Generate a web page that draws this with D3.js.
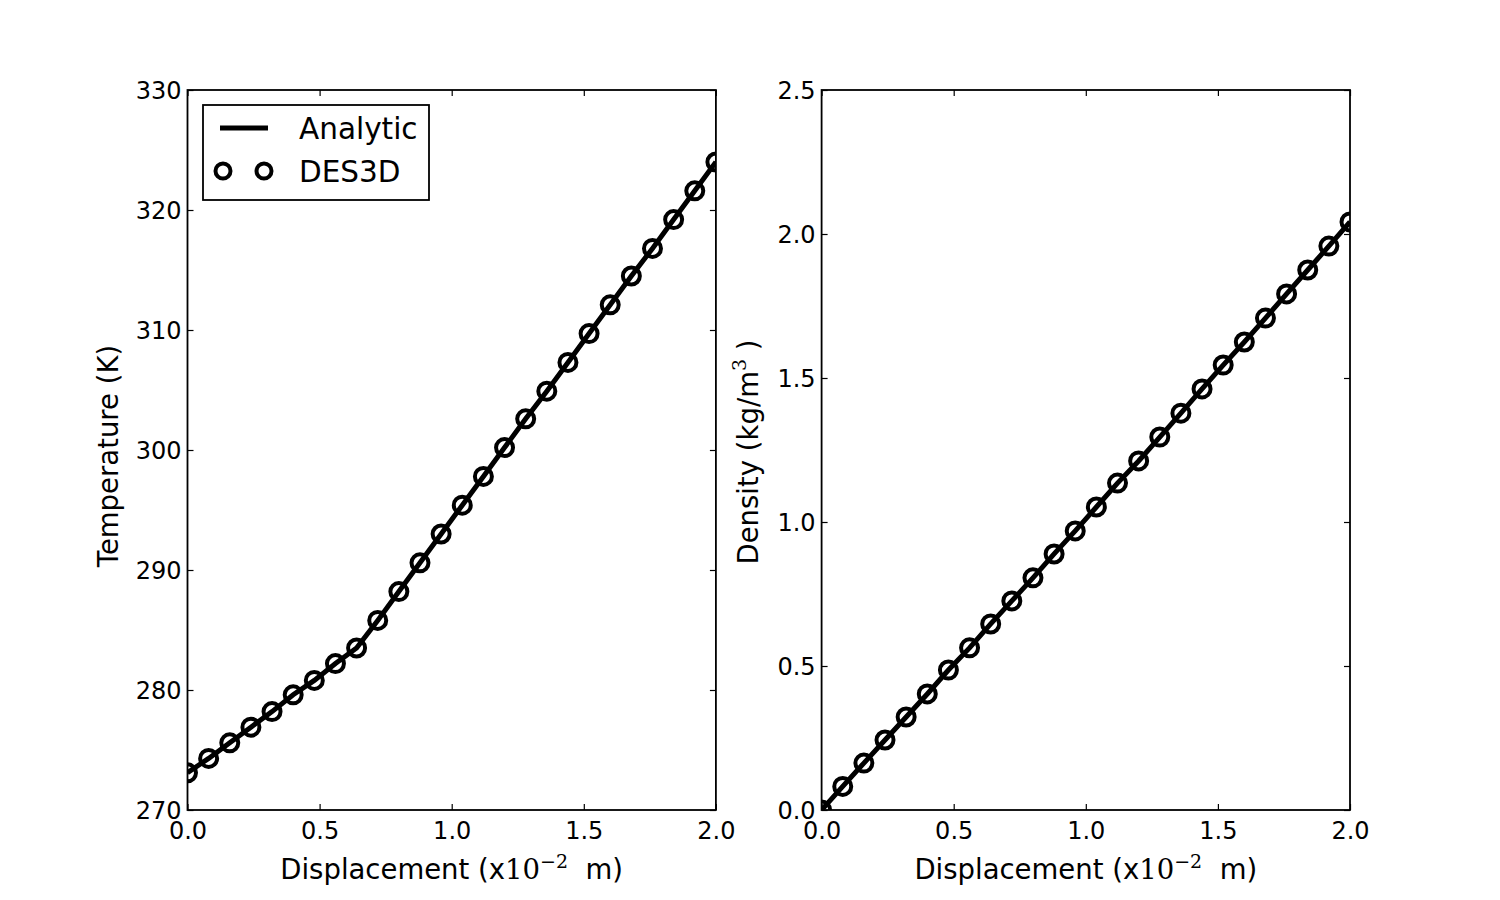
<!DOCTYPE html>
<html>
<head>
<meta charset="utf-8">
<script src="https://cdn.jsdelivr.net/npm/d3@7"></script>
<style>
  body { margin: 0; background: #fff; }
  text { font-family: "DejaVu Sans", sans-serif; fill: #000; }
  .serif { font-family: "DejaVu Serif", serif; }
</style>
</head>
<body>
<script>
// displacement (x10^-2 m) of each sample
const displacement = [0, 0.08, 0.16, 0.24, 0.32, 0.40, 0.48, 0.56, 0.64, 0.72, 0.80, 0.88, 0.96,
  1.04, 1.12, 1.20, 1.28, 1.36, 1.44, 1.52, 1.60, 1.68, 1.76, 1.84, 1.92, 2.00];

// temperature (K)
const tempAnalytic = [273.1, 274.3, 275.6, 276.9, 278.2, 279.6, 280.8, 282.2, 283.5, 285.8, 288.2,
  290.6, 293.0, 295.4, 297.8, 300.2, 302.6, 304.9, 307.3, 309.7, 312.1, 314.5, 316.8, 319.2, 321.6, 324.0];
const tempDES3D = [273.1, 274.3, 275.6, 276.9, 278.2, 279.6, 280.8, 282.2, 283.5, 285.8, 288.2,
  290.6, 293.0, 295.4, 297.8, 300.2, 302.6, 304.9, 307.3, 309.7, 312.1, 314.5, 316.8, 319.2, 321.6, 324.0];

// density (kg/m^3)
const densAnalytic = [0.0, 0.082, 0.163, 0.243, 0.323, 0.403, 0.486, 0.563, 0.646, 0.726, 0.806,
  0.889, 0.969, 1.052, 1.135, 1.212, 1.295, 1.378, 1.462, 1.545, 1.625, 1.708, 1.792, 1.875, 1.958, 2.042];
const densDES3D = [0.0, 0.082, 0.163, 0.243, 0.323, 0.403, 0.486, 0.563, 0.646, 0.726, 0.806,
  0.889, 0.969, 1.052, 1.135, 1.212, 1.295, 1.378, 1.462, 1.545, 1.625, 1.708, 1.792, 1.875, 1.958, 2.042];

const xTicks = [0, 0.5, 1.0, 1.5, 2.0];
const tempTicks = [270, 280, 290, 300, 310, 320, 330];
const densTicks = [0, 0.5, 1.0, 1.5, 2.0, 2.5];
const legendLabels = ["Analytic", "DES3D"];

const svg = d3.select("body").append("svg")
  .attr("width", 1500)
  .attr("height", 900);

const plotTop = 90, plotBottom = 810;
const tickLen = 6;

const drawPanel = (opts) => {
  const { id, left, right, yDomain, yTicks, yFmt, analytic, des3d } = opts;

  const xScale = d3.scaleLinear().domain([0, 2]).range([left, right]);
  const yScale = d3.scaleLinear().domain(yDomain).range([plotBottom, plotTop]);

  svg.append("clipPath").attr("id", id)
    .append("rect")
    .attr("x", left).attr("y", plotTop)
    .attr("width", right - left).attr("height", plotBottom - plotTop);

  const plot = svg.append("g").attr("clip-path", `url(#${id})`);

  const line = d3.line()
    .x((d, i) => xScale(displacement[i]))
    .y(d => yScale(d));

  plot.append("path")
    .attr("d", line(analytic))
    .attr("fill", "none")
    .attr("stroke", "#000")
    .attr("stroke-width", 5);

  plot.selectAll("circle")
    .data(des3d)
    .enter()
    .append("circle")
    .attr("cx", (d, i) => xScale(displacement[i]))
    .attr("cy", d => yScale(d))
    .attr("r", 8.5)
    .attr("fill", "none")
    .attr("stroke", "#000")
    .attr("stroke-width", 4);

  // axes: ticks inward on all four sides
  const axB = d3.axisBottom(xScale).tickValues(xTicks).tickFormat(d3.format(".1f"))
    .tickSizeInner(-tickLen).tickSizeOuter(0).tickPadding(12);
  const axT = d3.axisTop(xScale).tickValues(xTicks).tickFormat("")
    .tickSizeInner(-tickLen).tickSizeOuter(0);
  const axL = d3.axisLeft(yScale).tickValues(yTicks).tickFormat(yFmt)
    .tickSizeInner(-tickLen).tickSizeOuter(0).tickPadding(6);
  const axR = d3.axisRight(yScale).tickValues(yTicks).tickFormat("")
    .tickSizeInner(-tickLen).tickSizeOuter(0);

  const gB = svg.append("g").attr("transform", `translate(0,${plotBottom})`).call(axB);
  const gT = svg.append("g").attr("transform", `translate(0,${plotTop})`).call(axT);
  const gL = svg.append("g").attr("transform", `translate(${left},0)`).call(axL);
  const gR = svg.append("g").attr("transform", `translate(${right},0)`).call(axR);

  [gB, gT, gL, gR].forEach(g => {
    g.select(".domain").remove();
    g.selectAll(".tick line").attr("stroke", "#000").attr("stroke-width", 1.2);
    g.selectAll(".tick text").style("font-family", "DejaVu Sans").style("font-size", "24px").attr("fill", "#000");
  });
  gL.selectAll(".tick text").attr("dy", "0.36em");
  gB.selectAll(".tick text").attr("dy", "0.72em");

  svg.append("rect")
    .attr("x", left).attr("y", plotTop)
    .attr("width", right - left).attr("height", plotBottom - plotTop)
    .attr("fill", "none")
    .attr("stroke", "#000")
    .attr("stroke-width", 1.8);

  // x label
  const xl = svg.append("text")
    .attr("x", (left + right) / 2)
    .attr("y", 879)
    .attr("text-anchor", "middle")
    .style("font-size", "27.5px");
  xl.append("tspan").text("Displacement (x");
  xl.append("tspan").attr("class", "serif").text("10");
  xl.append("tspan").attr("class", "serif").attr("dy", -11).style("font-size", "19px").text("\u22122");
  xl.append("tspan").attr("dy", 11).text("\u00a0 m)");

  return { xScale, yScale };
};

drawPanel({
  id: "clipA", left: 187.5, right: 715.9,
  yDomain: [270, 330], yTicks: tempTicks, yFmt: d3.format("d"),
  analytic: tempAnalytic, des3d: tempDES3D
});

drawPanel({
  id: "clipB", left: 821.6, right: 1350,
  yDomain: [0, 2.5], yTicks: densTicks, yFmt: d3.format(".1f"),
  analytic: densAnalytic, des3d: densDES3D
});

// y labels
svg.append("text")
  .attr("transform", "translate(118,456) rotate(-90)")
  .attr("text-anchor", "middle")
  .style("font-size", "27.5px")
  .text("Temperature (K)");

const dl = svg.append("text")
  .attr("transform", "translate(758,452) rotate(-90)")
  .attr("text-anchor", "middle")
  .style("font-size", "27.5px");
dl.append("tspan").text("Density (kg/m");
dl.append("tspan").attr("class", "serif").attr("dy", -12).style("font-size", "19px").text("3");
dl.append("tspan").attr("dy", 12).text("\u00a0)");

// legend
const legend = svg.append("g");
legend.append("rect")
  .attr("x", 203).attr("y", 105)
  .attr("width", 226).attr("height", 95)
  .attr("fill", "#fff")
  .attr("stroke", "#000")
  .attr("stroke-width", 1.8);

legend.append("line")
  .attr("x1", 220).attr("x2", 268)
  .attr("y1", 128).attr("y2", 128)
  .attr("stroke", "#000")
  .attr("stroke-width", 5);

legend.selectAll("circle")
  .data([223, 264])
  .enter()
  .append("circle")
  .attr("cx", d => d)
  .attr("cy", 171)
  .attr("r", 7.5)
  .attr("fill", "none")
  .attr("stroke", "#000")
  .attr("stroke-width", 4);

legend.selectAll("text")
  .data(legendLabels)
  .enter()
  .append("text")
  .attr("x", 299)
  .attr("y", (d, i) => 139 + i * 43)
  .style("font-size", "29.5px")
  .text(d => d);
</script>
</body>
</html>
